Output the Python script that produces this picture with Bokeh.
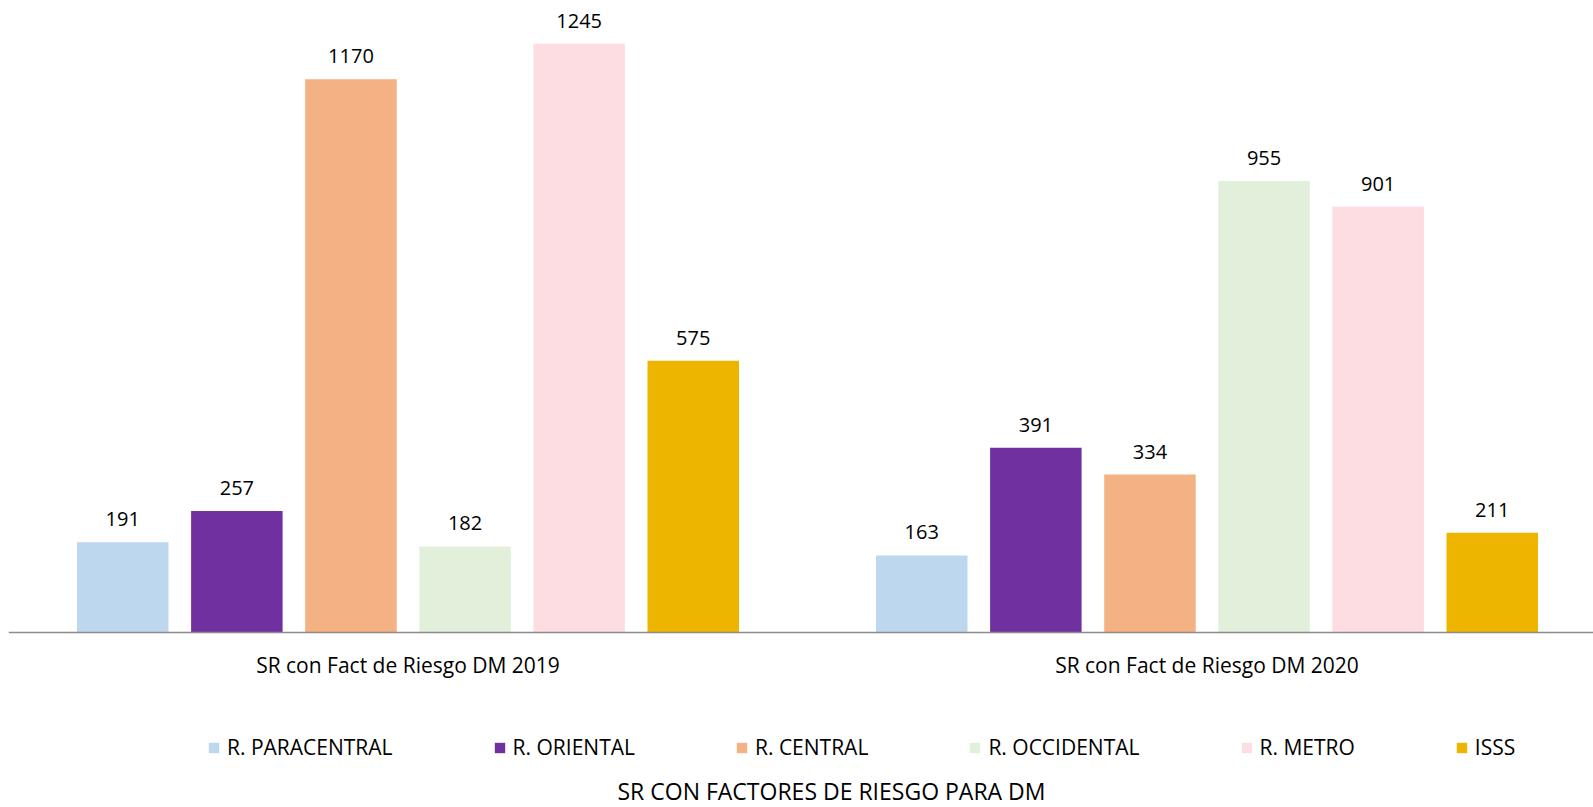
from bokeh.plotting import figure
from bokeh.models import (ColumnDataSource, Range1d, FixedTicker, Legend, LegendItem,
                          Label, LinearAxis)
from bokeh.transform import dodge
from bokeh.core.properties import value
from bokeh.embed import file_html
from bokeh.resources import INLINE

# ---------------- data ----------------
categories = ["SR con Fact de Riesgo DM 2019", "SR con Fact de Riesgo DM 2020"]
series_names = ["R. PARACENTRAL", "R. ORIENTAL", "R. CENTRAL", "R. OCCIDENTAL", "R. METRO", "ISSS"]
paracentral = [191, 163]
oriental = [257, 391]
central = [1170, 334]
occidental = [182, 955]
metro = [1245, 901]
isss = [575, 211]
colors = ["#BDD7EE", "#7030A0", "#F4B183", "#E2EFDA", "#FDDDE1", "#EDB500"]
axis_title = "SR CON FACTORES DE RIESGO PARA DM"

series_values = [paracentral, oriental, central, occidental, metro, isss]

# ---------------- layout constants ----------------
FONT = "Open Sans"
FIG_W, FIG_H = 1593, 807
LEFT, TOP = 8, 8
AXIS_Y = 632            # page y of the value-axis baseline
FRAME_W = FIG_W - LEFT
PX_PER_CAT = 799.0
PX_PER_UNIT_Y = 0.4728
PITCH = 114.1 / PX_PER_CAT
BAR_W = 91.5 / PX_PER_CAT

x_pos = [i + 0.5 for i in range(len(categories))]

y_top = (AXIS_Y - TOP) / PX_PER_UNIT_Y
y_bottom = -(FIG_H - AXIS_Y) / PX_PER_UNIT_Y

p = figure(width=FIG_W, height=FIG_H,
           x_range=Range1d(0, FRAME_W / PX_PER_CAT),
           y_range=Range1d(y_bottom, y_top),
           output_backend="svg", toolbar_location=None,
           x_axis_location=None, y_axis_location=None, outline_line_color=None,
           min_border_left=LEFT, min_border_right=0, min_border_top=TOP,
           min_border_bottom=0)

items = []
n = len(series_names)
for j, (name, vals, col) in enumerate(zip(series_names, series_values, colors)):
    src = ColumnDataSource(dict(x=x_pos, top=vals, label=[str(v) for v in vals]))
    off = (j - (n - 1) / 2) * PITCH
    r = p.vbar(x=dodge("x", off, range=p.x_range), top="top", bottom=0, width=BAR_W,
               source=src, fill_color=col, line_color=None)
    p.text(x=dodge("x", off, range=p.x_range), y="top", text="label", source=src,
           text_align="center", text_baseline="alphabetic", y_offset=-23,
           text_font=value(FONT), text_font_size="20px", text_color="#000000")
    items.append(LegendItem(label=name, renderers=[r]))

p.xgrid.visible = False
p.ygrid.visible = False

ax = LinearAxis(fixed_location=0)
ax.ticker = FixedTicker(ticks=x_pos)
ax.major_label_overrides = {x: c for x, c in zip(x_pos, categories)}
ax.axis_line_color = "#8C8C8C"
ax.axis_line_width = 1.5
ax.major_tick_line_color = None
ax.minor_tick_line_color = None
ax.major_tick_out = 0
ax.major_tick_in = 0
ax.major_label_standoff = 18
ax.major_label_text_font = FONT
ax.major_label_text_font_size = "21px"
ax.major_label_text_color = "#000000"
p.add_layout(ax, "below")

legend = Legend(items=items, orientation="horizontal", location=(199, 46),
                glyph_width=13, glyph_height=13, label_standoff=7, spacing=100,
                label_text_font=FONT, label_text_font_size="21px",
                label_text_color="#000000",
                border_line_color=None, background_fill_alpha=0,
                padding=0, margin=0)
p.add_layout(legend, "center")

title = Label(x=823, y=17, x_units="screen", y_units="screen", text=axis_title,
              text_align="center", text_baseline="middle", text_font=FONT,
              text_font_size="23px", text_color="#000000")
p.add_layout(title)

open("out.html", "w").write(file_html(p, INLINE))
